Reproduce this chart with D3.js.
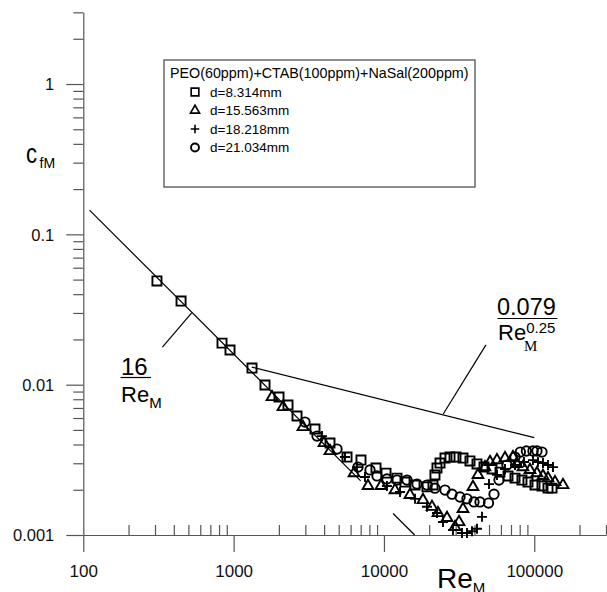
<!DOCTYPE html>
<html lang="en">
  <head>
    <meta charset="UTF-8" />
    <title>cfM vs ReM</title>
    <script src="https://d3js.org/d3.v7.min.js"></script>
    <style>
      body {
        margin: 0;
        background: #fff;
      }
      svg {
        font-family: Arial, "Liberation Sans", sans-serif;
      }
      .axis path,
      .axis line {
        stroke: #555;
        stroke-width: 1.2;
      }
      .axis text {
        fill: #111;
        font-size: 16.5px;
      }
      .mark {
        fill: none;
        stroke: #000;
        stroke-width: 1.9;
      }
      .ref {
        fill: none;
        stroke: #000;
        stroke-width: 1.2;
      }
    </style>
  </head>
  <body>
    <div id="chart"></div>
    <script>
      // measured points [ReM, cfM]
      const d8314 = [
        [309, 0.049], [447, 0.036], [837, 0.0189], [946, 0.017], [1325, 0.0129], [1617, 0.00995],
        [2004, 0.00828], [2300, 0.00732], [2640, 0.00619], [3477, 0.00507], [4375, 0.00409],
        [5680, 0.0033], [7035, 0.00315], [8855, 0.00279], [10320, 0.00258], [12210, 0.00239],
        [13800, 0.00225], [16090, 0.00215], [19330, 0.00209], [21200, 0.00215], [21850, 0.00251],
        [22530, 0.00279], [23600, 0.00301], [25470, 0.00325], [27500, 0.0033], [30150, 0.0033],
        [33560, 0.00325], [37350, 0.00311], [41580, 0.00297], [46290, 0.00283], [52330, 0.00275],
        [59150, 0.00262], [66860, 0.00247], [74430, 0.00239], [82810, 0.00232], [90820, 0.00225],
        [101100, 0.00215], [112500, 0.00212], [123400, 0.00205], [131200, 0.00205]
      ];
      const d15563 = [
        [1800, 0.00828], [2130, 0.0071], [2893, 0.00523], [3993, 0.00409], [4375, 0.00362],
        [6321, 0.00258], [7833, 0.00212], [9557, 0.00212], [11840, 0.00199], [14900, 0.00185],
        [18180, 0.00171], [20870, 0.00154], [22880, 0.0014], [26270, 0.0013], [29690, 0.00113],
        [31570, 0.00122], [33560, 0.00149], [39110, 0.00209], [42220, 0.00251], [46990, 0.00283],
        [50750, 0.00306], [56480, 0.00315], [63850, 0.00325], [72170, 0.0033], [76400, 0.00297],
        [84090, 0.00283], [93630, 0.00271], [104200, 0.00258], [114300, 0.00247], [123400, 0.00239],
        [137300, 0.00225], [155200, 0.00215]
      ];
      const d18218 = [
        [3871, 0.00455], [5507, 0.0033], [6618, 0.00283], [7480, 0.00243], [10470, 0.00212],
        [12790, 0.00193], [16090, 0.00174], [19330, 0.00154], [22530, 0.0014], [24700, 0.00122],
        [28790, 0.00108], [33050, 0.00103], [35670, 0.00103], [38520, 0.00106], [41580, 0.0011],
        [44890, 0.00132], [49980, 0.00218], [56480, 0.00251], [63850, 0.00275], [74430, 0.00292],
        [85420, 0.00306], [98030, 0.00315], [105800, 0.00306], [114300, 0.00301], [123400, 0.00292],
        [133200, 0.00283]
      ];
      const d21034 = [
        [2983, 0.00564], [3586, 0.00455], [4871, 0.00373], [6720, 0.00283], [8075, 0.00271],
        [8990, 0.00247], [10470, 0.00236], [12210, 0.00232], [14230, 0.00232], [16590, 0.00218],
        [19330, 0.00215], [21850, 0.00205], [25470, 0.00199], [28360, 0.00187], [32060, 0.00179],
        [35670, 0.00174], [39710, 0.00166], [43540, 0.00166], [49600, 0.00163], [53970, 0.00187],
        [58250, 0.00232], [65810, 0.00292], [74430, 0.0033], [80800, 0.00356], [88600, 0.00362],
        [98030, 0.00362], [104200, 0.00362], [112500, 0.00356]
      ];

      // reference lines and label leaders, end points
      const laminarA = [[110, 0.145], [7000, 0.00229]];
      const laminarB = [[11500, 0.00139], [16000, 0.001]];
      const blasius = [[1320, 0.0131], [100000, 0.00444]];
      const leader16 = [[526, 0.03], [336, 0.0178]];
      const leader079 = [[24800, 0.00638], [47700, 0.0184]];

      const xMajor = [100, 1000, 10000, 100000];
      const yMajor = [0.001, 0.01, 0.1, 1];
      const legendTitle = "PEO(60ppm)+CTAB(100ppm)+NaSal(200ppm)";
      const seriesNames = ["d=8.314mm", "d=15.563mm", "d=18.218mm", "d=21.034mm"];

      const width = 607;
      const height = 592;

      const x = d3.scaleLog().domain([100, 300000]).range([83.3, 606]);
      const y = d3.scaleLog().domain([0.001, 3]).range([535, 12.3]);

      const svg = d3.select("#chart").append("svg").attr("width", width).attr("height", height);

      // minor ticks 2..9 in each decade
      function minors(lo, hi) {
        const out = [];
        for (let e = lo; e < hi; e++) {
          for (let k = 2; k <= 9; k++) {
            out.push(k * Math.pow(10, e));
          }
        }
        return out;
      }
      const xMinor = minors(2, 6).filter((v) => v <= 300000);
      const yMinor = minors(-3, 1).filter((v) => v <= 3);

      // x axis: minor ticks inside (up), major ticks outside (down)
      svg
        .append("g")
        .attr("class", "axis")
        .attr("transform", `translate(0,${y(0.001)})`)
        .call(d3.axisTop(x).tickValues(xMinor).tickSize(10).tickSizeOuter(0).tickFormat(""));
      svg
        .append("g")
        .attr("class", "axis")
        .attr("transform", `translate(0,${y(0.001)})`)
        .call(d3.axisBottom(x).tickValues(xMajor).tickSize(17).tickSizeOuter(0).tickFormat(d3.format("d")))
        .call((g) => g.select(".domain").remove())
        .call((g) => g.selectAll("text").attr("y", 42).attr("dy", null).style("font-size", "17px"));

      // y axis: all ticks outside (left)
      svg
        .append("g")
        .attr("class", "axis")
        .attr("transform", `translate(${x(100)},0)`)
        .call(d3.axisLeft(y).tickValues(yMinor).tickSize(10).tickSizeOuter(0).tickFormat(""));
      svg
        .append("g")
        .attr("class", "axis")
        .attr("transform", `translate(${x(100)},0)`)
        .call(
          d3
            .axisLeft(y)
            .tickValues(yMajor)
            .tickSize(17)
            .tickPadding(12)
            .tickFormat((d) => String(d))
        )
        .call((g) => g.select(".domain").remove())
        .call((g) => g.selectAll("text").attr("dy", "0.36em"));

      // axis titles
      const xt = svg.append("text").attr("x", 437).attr("y", 588).style("font-size", "28px");
      xt.append("tspan").text("Re");
      xt.append("tspan").attr("dy", 5).style("font-size", "15px").text("M");

      svg
        .append("text")
        .attr("x", 26)
        .attr("y", 163)
        .attr("textLength", 11)
        .attr("lengthAdjust", "spacingAndGlyphs")
        .style("font-size", "28px")
        .text("c");
      svg.append("text").attr("x", 39.5).attr("y", 168).style("font-size", "14px").text("fM");

      // reference lines
      const line = d3
        .line()
        .x((d) => x(d[0]))
        .y((d) => y(d[1]));
      [laminarA, laminarB, blasius, leader16, leader079].forEach((seg) => {
        svg.append("path").attr("class", "ref").attr("d", line(seg));
      });

      // markers
      const sq = d3.symbol(d3.symbolSquare, 82)();
      const tri = d3.symbol(d3.symbolTriangle, 50)();
      const plus = "M-5,0H5M0,-5V5";
      const shapes = [sq, tri, plus, null];
      const series = [d8314, d15563, d18218, d21034];

      function drawMark(g, i, cx, cy, scale) {
        if (shapes[i]) {
          g.append("path")
            .attr("class", "mark")
            .attr("d", shapes[i])
            .attr("transform", `translate(${cx},${cy}) scale(${scale})`);
        } else {
          g.append("circle")
            .attr("class", "mark")
            .attr("cx", cx)
            .attr("cy", cy)
            .attr("r", 4.7 * scale);
        }
      }

      series.forEach((pts, i) => {
        const g = svg.append("g");
        pts.forEach((d) => drawMark(g, i, x(d[0]), y(d[1]), 1));
      });

      // formula labels
      svg.append("text").attr("x", 121).attr("y", 375).style("font-size", "24px").text("16");
      svg.append("line").attr("class", "ref").attr("x1", 120.5).attr("x2", 151).attr("y1", 377.5).attr("y2", 377.5);
      const r1 = svg.append("text").attr("x", 121).attr("y", 402).style("font-size", "22px");
      r1.append("tspan").text("Re");
      r1.append("tspan").attr("dy", 6).style("font-size", "15px").text("M");

      svg.append("text").attr("x", 497).attr("y", 315).style("font-size", "23.5px").text("0.079");
      svg.append("line").attr("class", "ref").attr("x1", 497.5).attr("x2", 557.5).attr("y1", 318.5).attr("y2", 318.5);
      const r2 = svg.append("text").attr("x", 498).attr("y", 340).style("font-size", "22px");
      r2.append("tspan").text("Re");
      r2.append("tspan").attr("dy", -7).style("font-size", "15px").text("0.25");
      svg
        .append("text")
        .attr("x", 524)
        .attr("y", 351)
        .style("font-family", "'Liberation Serif', 'Times New Roman', serif")
        .style("font-size", "15px")
        .text("M");

      // legend
      const lg = svg.append("g");
      lg.append("rect")
        .attr("x", 164)
        .attr("y", 60)
        .attr("width", 311)
        .attr("height", 127)
        .attr("fill", "#fff")
        .attr("stroke", "#444")
        .attr("stroke-width", 1.2);
      lg.append("text").attr("x", 170).attr("y", 78).style("font-size", "14.3px").text(legendTitle);
      seriesNames.forEach((name, i) => {
        const cy = 92 + i * 18.5;
        drawMark(lg, i, 195, cy, 0.85);
        lg.append("text")
          .attr("x", 210)
          .attr("y", cy)
          .attr("dy", "0.36em")
          .style("font-size", "13.5px")
          .text(name);
      });
    </script>
  </body>
</html>
